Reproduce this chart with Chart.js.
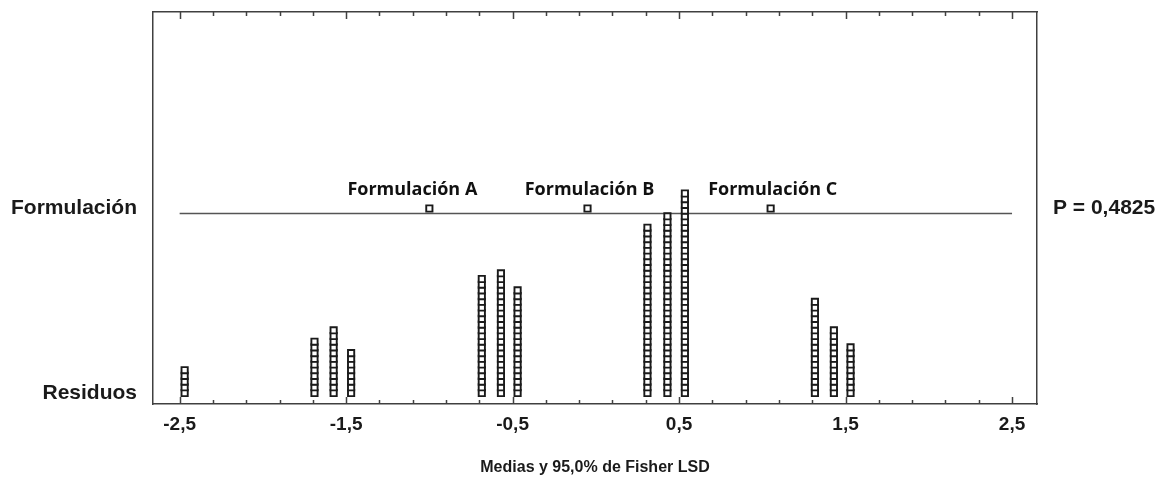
<!DOCTYPE html>
<html>
<head>
<meta charset="utf-8">
<script src="https://cdn.jsdelivr.net/npm/chart.js@4.4.0/dist/chart.umd.min.js"></script>
<style>
html, body { margin: 0; padding: 0; background: #fff; }
</style>
</head>
<body>
<canvas id="grafico" width="1156" height="479"></canvas>
<script>
// posiciones (x) de cada columna de residuos y cuantos cuadraditos tiene
const columnasX = [-2.47, -1.69, -1.575, -1.47, -0.685, -0.57, -0.47, 0.31, 0.43, 0.535, 1.316, 1.43, 1.53];
const conteos = [5, 10, 12, 8, 21, 22, 19, 30, 32, 36, 17, 12, 9];

// medias de cada formulacion
const formulaciones = ["Formulación A", "Formulación B", "Formulación C"];
const medias = [-1.0, -0.05, 1.05];

const filas = ["Residuos", "Formulación"];
const etiquetasX = [-2.5, -1.5, -0.5, 0.5, 1.5, 2.5];
const textoP = "P = 0,4825";
const tituloX = "Medias y 95,0% de Fisher LSD";

// escala vertical: una unidad = un cuadradito
const paso = 5.7;
const yMin = -11 / paso;
const yMax = yMin + 392 / paso;
const yLinea = (393 - 213.5) / paso;
const yMedia = (393 - 208.5) / paso;

const colorBorde = "#404040";
const colorTexto = "#1a1a1a";
const fuenteNum = "'Liberation Sans', Arial, sans-serif";

// marcas cada 0.2 entre -2.5 y 2.5
let marcas = [];
for (let i = 0; i <= 25; i++) {
	marcas.push(Math.round((-2.5 + i * 0.2) * 10) / 10);
}

function esMayor(v) {
	return etiquetasX.some(function(e) { return Math.abs(e - v) < 1e-6; });
}

function sinRelleno(scale) {
	scale.paddingTop = 0;
	scale.paddingBottom = 0;
	scale.paddingLeft = 0;
	scale.paddingRight = 0;
}

let puntosResiduos = [];
for (let i = 0; i < columnasX.length; i++) {
	for (let k = 0; k < conteos[i]; k++) {
		puntosResiduos.push({ x: columnasX[i], y: k });
	}
}
let puntosMedias = medias.map(function(m) { return { x: m, y: yMedia }; });

const marcasPlugin = {
	id: "marcas",
	afterDatasetsDraw: function(chart) {
		const ctx = chart.ctx;
		const sx = chart.scales.x;
		const area = chart.chartArea;
		ctx.save();
		ctx.strokeStyle = colorBorde;
		ctx.lineWidth = 1.5;
		marcas.forEach(function(v) {
			const px = Math.round(sx.getPixelForValue(v)) + 0.5;
			const largo = esMayor(v) ? 7 : 4;
			ctx.beginPath();
			ctx.moveTo(px, area.bottom);
			ctx.lineTo(px, area.bottom - largo);
			ctx.moveTo(px, area.top);
			ctx.lineTo(px, area.top + largo);
			ctx.stroke();
		});
		ctx.restore();
	}
};

const etiquetasPlugin = {
	id: "etiquetas",
	afterDatasetsDraw: function(chart) {
		const ctx = chart.ctx;
		const sx = chart.scales.x;
		const sy = chart.scales.y;
		const desplazar = [-17, 2, 2];
		ctx.save();
		ctx.fillStyle = "#111";
		ctx.font = "bold 18px 'Open Sans', sans-serif";
		ctx.textAlign = "center";
		ctx.textBaseline = "middle";
		for (let i = 0; i < formulaciones.length; i++) {
			ctx.fillText(formulaciones[i], sx.getPixelForValue(medias[i]) + desplazar[i], sy.getPixelForValue(yMedia) - 19);
		}
		ctx.restore();
	}
};

new Chart(document.getElementById("grafico"), {
	type: "scatter",
	data: {
		datasets: [
			{
				label: "Residuos",
				data: puntosResiduos,
				pointStyle: "rect",
				pointRadius: 4.4,
				backgroundColor: "#ffffff",
				borderColor: "#1a1a1a",
				borderWidth: 1.9
			},
			{
				label: "Medias",
				data: puntosMedias,
				pointStyle: "rect",
				pointRadius: 4.4,
				backgroundColor: "#ffffff",
				borderColor: "#1a1a1a",
				borderWidth: 1.9
			},
			{
				type: "line",
				label: "Formulación",
				data: [{ x: -2.5, y: yLinea }, { x: 2.5, y: yLinea }],
				borderColor: "#555555",
				borderWidth: 1.5,
				pointRadius: 0,
				order: 1
			}
		]
	},
	options: {
		responsive: false,
		animation: false,
		layout: { padding: 0 },
		plugins: {
			legend: { display: false },
			tooltip: { enabled: false }
		},
		scales: {
			x: {
				type: "linear",
				position: "bottom",
				min: -2.66,
				max: 2.65,
				afterBuildTicks: function(scale) {
					scale.ticks = marcas.map(function(v) { return { value: v }; });
				},
				afterFit: function(scale) { scale.height = 75; sinRelleno(scale); },
				grid: { display: false, drawTicks: false },
				border: { display: true, color: colorBorde, width: 1.5 },
				ticks: {
					autoSkip: false,
					maxRotation: 0,
					padding: 9,
					color: colorTexto,
					font: { family: fuenteNum, size: 19, weight: "bold" },
					callback: function(v) {
						return esMayor(v) ? v.toFixed(1).replace(".", ",") : "";
					}
				},
				title: {
					display: true,
					text: tituloX,
					color: colorTexto,
					font: { family: fuenteNum, size: 16, weight: "bold" },
					padding: { top: 4, bottom: 2 }
				}
			},
			x2: {
				type: "linear",
				position: "top",
				min: -2.66,
				max: 2.65,
				afterFit: function(scale) { scale.height = 12; sinRelleno(scale); },
				grid: { display: false, drawTicks: false },
				border: { display: true, color: colorBorde, width: 1.5 },
				ticks: { display: false }
			},
			y: {
				type: "linear",
				position: "left",
				min: yMin,
				max: yMax,
				afterBuildTicks: function(scale) {
					scale.ticks = [{ value: 0 }, { value: yMedia }];
				},
				afterFit: function(scale) { scale.width = 153; sinRelleno(scale); },
				grid: { display: false, drawTicks: false },
				border: { display: true, color: colorBorde, width: 1.5 },
				ticks: {
					autoSkip: false,
					padding: 16,
					color: colorTexto,
					font: { family: fuenteNum, size: 21, weight: "bold" },
					callback: function(v, i) { return filas[i]; }
				}
			},
			y2: {
				type: "linear",
				position: "right",
				min: yMin,
				max: yMax,
				afterBuildTicks: function(scale) {
					scale.ticks = [{ value: yMedia }];
				},
				afterFit: function(scale) { scale.width = 119; sinRelleno(scale); },
				grid: { display: false, drawTicks: false },
				border: { display: true, color: colorBorde, width: 1.5 },
				ticks: {
					autoSkip: false,
					padding: 16,
					color: colorTexto,
					font: { family: fuenteNum, size: 21, weight: "bold" },
					callback: function() { return textoP; }
				}
			}
		}
	},
	plugins: [marcasPlugin, etiquetasPlugin]
});
</script>
</body>
</html>
